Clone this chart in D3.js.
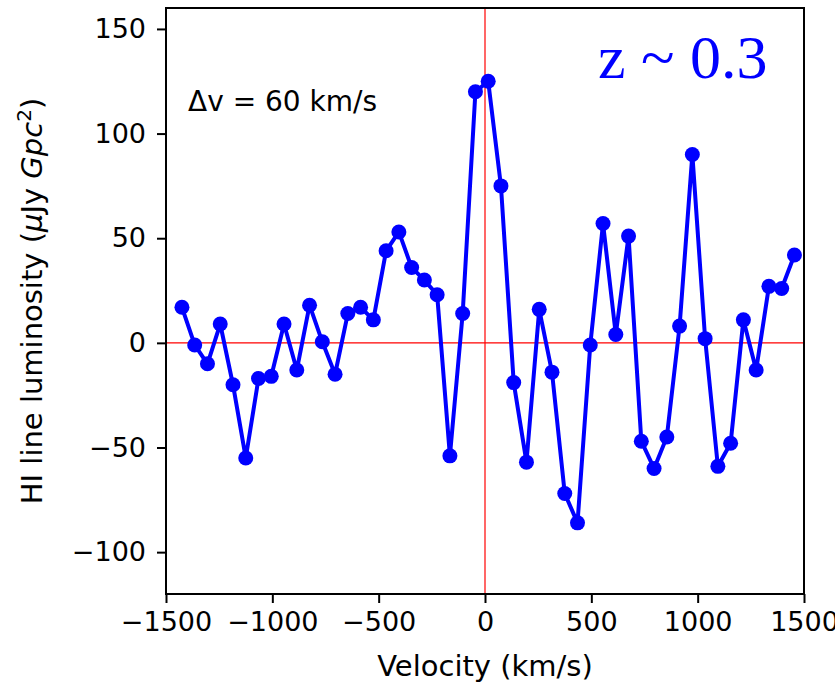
<!DOCTYPE html>
<html>
<head>
<meta charset="utf-8">
<script src="https://cdn.jsdelivr.net/npm/d3@7"></script>
<style>
  body { margin: 0; background: #fff; }
  svg { display: block; }
</style>
</head>
<body>
<div id="chart"></div>
<script>
// HI stacked spectrum, z ~ 0.3, channel width 60 km/s
const velocity = [-1425, -1365, -1305, -1245, -1185, -1125, -1065, -1005, -945, -885,
                  -825, -765, -705, -645, -585, -525, -465, -405, -345, -285,
                  -225, -165, -105, -45, 15, 75, 135, 195, 255, 315,
                  375, 435, 495, 555, 615, 675, 735, 795, 855, 915,
                  975, 1035, 1095, 1155, 1215, 1275, 1335, 1395, 1455];
const luminosity = [17, -1, -10, 9, -20, -55, -17, -16, 9, -13,
                    18, 0.5, -15, 14, 17, 11, 44, 53, 36, 30,
                    23, -54, 14, 120, 125, 75, -19, -57, 16, -14,
                    -72, -86, -1, 57, 4, 51, -47, -60, -45, 8,
                    90, 2, -59, -48, 11, -13, 27, 26, 42];
const xTicks = [-1500, -1000, -500, 0, 500, 1000, 1500];
const yTicks = [-100, -50, 0, 50, 100, 150];

const width = 835, height = 688;
const margin = {top: 8, right: 31, bottom: 94, left: 166};
const innerWidth = width - margin.left - margin.right;
const innerHeight = height - margin.top - margin.bottom;

const svg = d3.select("#chart")
    .append("svg")
    .attr("width", width)
    .attr("height", height);

const g = svg.append("g")
    .attr("transform", `translate(${margin.left},${margin.top})`);

const x = d3.scaleLinear().domain([-1500, 1500]).range([0, innerWidth]);
const y = d3.scaleLinear().domain([-120, 160]).range([innerHeight, 0]);

// zero lines
g.append("line")
    .attr("x1", x(0)).attr("x2", x(0))
    .attr("y1", 0).attr("y2", innerHeight)
    .attr("stroke", "red").attr("stroke-width", 1.2);
g.append("line")
    .attr("x1", 0).attr("x2", innerWidth)
    .attr("y1", y(0)).attr("y2", y(0))
    .attr("stroke", "red").attr("stroke-width", 1.2);

// spectrum
const data = velocity.map((v, i) => ({v: v, l: luminosity[i]}));
const line = d3.line().x(d => x(d.v)).y(d => y(d.l));

g.append("path")
    .datum(data)
    .attr("d", line)
    .attr("fill", "none")
    .attr("stroke", "#0000ff")
    .attr("stroke-width", 4)
    .attr("stroke-linejoin", "round");

g.selectAll(".pt")
    .data(data)
    .join("circle")
    .attr("class", "pt")
    .attr("cx", d => x(d.v))
    .attr("cy", d => y(d.l))
    .attr("r", 7.5)
    .attr("fill", "#0000ff");

// axes
const xAxis = g.append("g")
    .attr("transform", `translate(0,${innerHeight})`)
    .call(d3.axisBottom(x).tickValues(xTicks).tickFormat(d3.format("d")).tickSize(9).tickPadding(9));
const yAxis = g.append("g")
    .call(d3.axisLeft(y).tickValues(yTicks).tickFormat(d3.format("d")).tickSize(9).tickPadding(11));

[xAxis, yAxis].forEach(a => {
    a.select(".domain").remove();
    a.selectAll(".tick line").attr("stroke", "#000").attr("stroke-width", 2);
    a.selectAll(".tick text")
        .attr("fill", "#000")
        .style("font-family", "'DejaVu Sans'")
        .style("font-size", "27px");
});

// frame
g.append("rect")
    .attr("x", 0).attr("y", 0)
    .attr("width", innerWidth).attr("height", innerHeight)
    .attr("fill", "none")
    .attr("stroke", "#000")
    .attr("stroke-width", 2);

// axis labels
g.append("text")
    .attr("x", innerWidth / 2)
    .attr("y", innerHeight + 82)
    .style("text-anchor", "middle")
    .style("font-family", "'DejaVu Sans'")
    .style("font-size", "29px")
    .text("Velocity (km/s)");

const yl = g.append("text")
    .attr("transform", `translate(${-margin.left + 42},${innerHeight / 2}) rotate(-90)`)
    .style("text-anchor", "middle")
    .style("font-family", "'DejaVu Sans'")
    .style("font-size", "29px");
yl.append("tspan").text("HI line luminosity (");
yl.append("tspan").style("font-style", "italic").text("μ");
yl.append("tspan").text("Jy ");
yl.append("tspan").style("font-style", "italic").text("Gpc");
yl.append("tspan").attr("dy", -11).style("font-size", "20px").text("2");
yl.append("tspan").attr("dy", 11).text(")");

// annotations
g.append("text")
    .attr("x", 188 - margin.left)
    .attr("y", 111 - margin.top)
    .style("font-family", "'DejaVu Sans'")
    .style("font-size", "28px")
    .text("Δv = 60 km/s");

g.append("text")
    .attr("x", 598 - margin.left)
    .attr("y", 78 - margin.top)
    .style("font-family", "'Liberation Serif'")
    .style("font-size", "62px")
    .attr("fill", "#0000ff")
    .text("z ~ 0.3");
</script>
</body>
</html>
